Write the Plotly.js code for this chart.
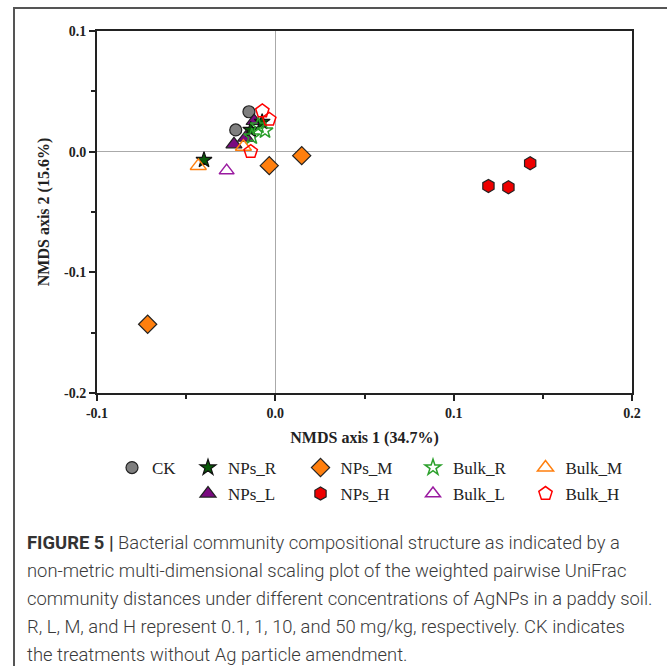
<!DOCTYPE html>
<html><head><meta charset="utf-8">
<script src="https://cdn.plot.ly/plotly-3.0.1.min.js"></script>
<style>
html,body{margin:0;padding:0;background:#fff;}
#wrap{position:relative;width:667px;height:666px;overflow:hidden;}
#frame{position:absolute;left:13px;top:7px;width:700px;height:700px;border-left:2px solid #555;border-top:2px solid #555;}
#chart{position:absolute;left:0;top:0;width:667px;height:666px;}
#cap{position:absolute;left:27px;top:529px;width:660px;font-family:Roboto,"Liberation Sans",sans-serif;font-size:18.4px;line-height:28.1px;color:#3a3a3a;font-weight:300;white-space:nowrap;}
#cap b{font-weight:700;color:#333;}
</style></head><body>
<div id="wrap"><div id="frame"></div><div id="chart"></div>
<div id="cap"><b>FIGURE 5 |</b> Bacterial community compositional structure as indicated by a<br>non-metric multi-dimensional scaling plot of the weighted pairwise UniFrac<br>community distances under different concentrations of AgNPs in a paddy soil.<br>R, L, M, and H represent 0.1, 1, 10, and 50 mg/kg, respectively. CK indicates<br>the treatments without Ag particle amendment.</div>
</div>
<script>
// Data (NMDS axis 1, NMDS axis 2)
const CK_x = [-0.0148, -0.0222];
const CK_y = [0.0331, 0.0180];
const NPsL_x = [-0.0119, -0.0166, -0.0232];
const NPsL_y = [0.0254, 0.0116, 0.0061];
const NPsR_x = [-0.0074, -0.0138, -0.0400];
const NPsR_y = [0.0246, 0.0180, -0.0069];
const BulkR_x = [-0.0058, -0.0095, -0.0132];
const BulkR_y = [0.0174, 0.0215, 0.0124];
const NPsM_x = [-0.0034, 0.0148, -0.0716];
const NPsM_y = [-0.0116, -0.0033, -0.1430];
const NPsH_x = [0.1195, 0.1307, 0.1429];
const NPsH_y = [-0.0284, -0.0295, -0.0096];
const BulkL_x = [-0.0273];
const BulkL_y = [-0.0157];
const BulkM_x = [-0.0179, -0.0432];
const BulkM_y = [0.0041, -0.0118];
const BulkH_x = [-0.0073, -0.0034, -0.0138];
const BulkH_y = [0.0337, 0.0268, 0.0000];

const xTicks = [-0.1, 0.0, 0.1, 0.2];
const xTickText = ['-0.1', '0.0', '0.1', '0.2'];
const yTicks = [-0.2, -0.1, 0.0, 0.1];
const yTickText = ['-0.2', '-0.1', '0.0', '0.1'];

function tr(name, x, y, symbol, fill, line, size, legend, rank){
  return {type:'scatter', mode:'markers', name:name, x:x, y:y, legend:legend, legendrank:rank,
    marker:{symbol:symbol, size:size, color:fill, line:{color:line, width:1.2}}};
}
const traces = [
  tr('CK', CK_x, CK_y, 'circle', '#7f7f7f', '#222', 12, 'legend', 1),
  tr('NPs_L', NPsL_x, NPsL_y, 'triangle-up', '#7a0a80', '#222', 14, 'legend3', 1),
  tr('NPs_R', NPsR_x, NPsR_y, 'star', '#0a5a0a', '#111', 12, 'legend2', 1),
  tr('Bulk_R', BulkR_x, BulkR_y, 'star-open', '#2ca02c', '#2ca02c', 12, 'legend2', 3),
  tr('NPs_M', NPsM_x, NPsM_y, 'diamond', '#ff7f0e', '#222', 14, 'legend2', 2),
  tr('NPs_H', NPsH_x, NPsH_y, 'hexagon', '#ee0000', '#222', 13, 'legend3', 2),
  tr('Bulk_L', BulkL_x, BulkL_y, 'triangle-up-open', '#9a1aa0', '#9a1aa0', 13, 'legend3', 3),
  tr('Bulk_M', BulkM_x, BulkM_y, 'triangle-up-open', '#ff7f0e', '#ff7f0e', 14, 'legend2', 4),
  tr('Bulk_H', BulkH_x, BulkH_y, 'pentagon-open', '#ff0000', '#ff0000', 14, 'legend3', 4)
];
traces.forEach(t=>{ if(t.marker.symbol.endsWith('open')) t.marker.line.width = 1.5; });

const serif = '"Liberation Serif","Times New Roman",serif';
const legBase = {orientation:'h', xanchor:'left', yanchor:'top', bgcolor:'rgba(0,0,0,0)',
  font:{family:serif, size:17, color:'#222'}, traceorder:'normal', entrywidthmode:'pixels', itemclick:false};

const layout = {
  width:667, height:666,
  margin:{l:97, r:35, t:31, b:273},
  paper_bgcolor:'rgba(0,0,0,0)', plot_bgcolor:'#fff',
  showlegend:true,
  xaxis:{range:[-0.1,0.2], tickvals:xTicks, ticktext:xTickText, ticks:'outside', ticklen:6, tickwidth:2,
    tickcolor:'#222', showline:true, linecolor:'#222', linewidth:2, mirror:true, showgrid:false,
    zeroline:true, zerolinecolor:'#aaa', zerolinewidth:1.5,
    minor:{dtick:0.05, tick0:0, ticks:'outside', ticklen:4, tickwidth:2, tickcolor:'#222', showgrid:false},
    tickfont:{family:serif, size:14, color:'#222', weight:'bold'},
    title:{text:'<b>NMDS axis 1 (34.7%)</b>', font:{family:serif, size:16, color:'#222'}, standoff:12}},
  yaxis:{range:[-0.2,0.1], tickvals:yTicks, ticktext:yTickText, ticks:'outside', ticklen:6, tickwidth:2,
    tickcolor:'#222', showline:true, linecolor:'#222', linewidth:2, mirror:true, showgrid:false,
    zeroline:true, zerolinecolor:'#aaa', zerolinewidth:1.5,
    minor:{dtick:0.05, tick0:0, ticks:'outside', ticklen:4, tickwidth:2, tickcolor:'#222', showgrid:false},
    tickfont:{family:serif, size:14, color:'#222', weight:'bold'},
    title:{text:'<b>NMDS axis 2 (15.6%)</b>', font:{family:serif, size:16, color:'#222'}, standoff:10}},
  legend: Object.assign({}, legBase, {x:(112-97)/535, y:(393-450)/362, entrywidth:35}),
  legend2: Object.assign({}, legBase, {x:(188-97)/535, y:(393-450)/362, entrywidth:67.5}),
  legend3: Object.assign({}, legBase, {x:(188-97)/535, y:(393-476)/362, entrywidth:67.5})
};
Plotly.newPlot('chart', traces, layout, {displayModeBar:false, staticPlot:true});
</script></body></html>
